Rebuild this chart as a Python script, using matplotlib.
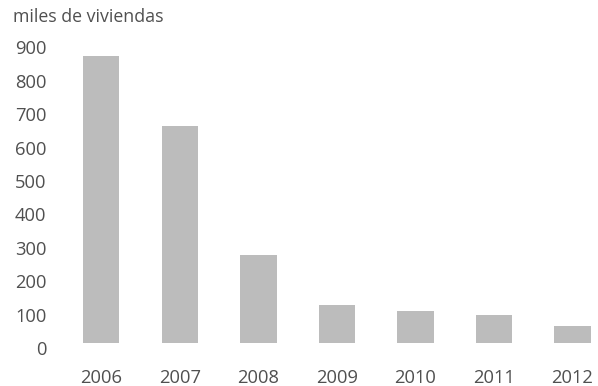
import matplotlib
matplotlib.use("Agg")
import matplotlib.pyplot as plt
import matplotlib.transforms as mtransforms

years = ["2006", "2007", "2008", "2009", "2010", "2011", "2012"]
values = [860, 650, 262, 113, 95, 85, 52]
yticks = [0, 100, 200, 300, 400, 500, 600, 700, 800, 900]
ylabel_text = "miles de viviendas"

plt.rcParams['font.family'] = ['Open Sans', 'DejaVu Sans']

W, H = 598, 386
fig = plt.figure(figsize=(W / 100, H / 100), dpi=100)
ax = fig.add_axes([70 / W, 43 / H, 530 / W, 300.6 / H])

x = list(range(len(years)))
ax.bar(x, values, width=0.46, color="#bcbcbc", edgecolor="none")

ax.set_xlim(-0.4, 6.35)
ax.set_ylim(0, 900)
ax.set_xticks(x)
ax.set_xticklabels(years)
ax.set_yticks(yticks)
ax.set_yticklabels([str(v) for v in yticks])

for s in ax.spines.values():
    s.set_visible(False)
ax.tick_params(axis="both", length=0, labelsize=13.2, colors="#505050")
ax.tick_params(axis="x", pad=19)
ax.tick_params(axis="y", pad=17)

offset = mtransforms.ScaledTranslation(0, -5 / 100, fig.dpi_scale_trans)
for lab in ax.get_yticklabels():
    lab.set_transform(lab.get_transform() + offset)

fig.text(13 / W, 1 - 17 / H, ylabel_text, ha="left", va="center",
         fontsize=12.8, color="#505050")

fig.savefig("out.png", dpi=100, facecolor="white")
